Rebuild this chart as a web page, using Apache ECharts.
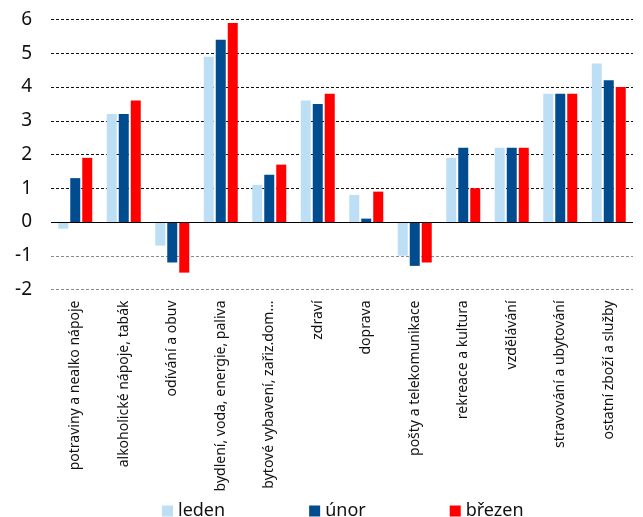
<!DOCTYPE html>
<html>
<head>
<meta charset="utf-8">
<script src="https://cdn.jsdelivr.net/npm/echarts@6/dist/echarts.min.js"></script>
<style>
  html, body { margin: 0; padding: 0; background: #fff; }
  #chart { width: 643px; height: 517px; }
</style>
</head>
<body>
<div id="chart"></div>
<script>
// Spotřebitelské ceny podle oddílů – meziroční změna (%)
const categories = [
  'potraviny a nealko nápoje',
  'alkoholické nápoje, tabák',
  'odívání a obuv',
  'bydlení, voda, energie, paliva',
  'bytové vybavení, zařiz.dom…',
  'zdraví',
  'doprava',
  'pošty a telekomunikace',
  'rekreace a kultura',
  'vzdělávání',
  'stravování a ubytování',
  'ostatní zboží a služby'
];
const seriesNames = ['leden', 'únor', 'březen'];
const leden  = [-0.2, 3.2, -0.7, 4.9, 1.1, 3.6, 0.8, -1.0, 1.9, 2.2, 3.8, 4.7];
const unor   = [ 1.3, 3.2, -1.2, 5.4, 1.4, 3.5, 0.1, -1.3, 2.2, 2.2, 3.8, 4.2];
const brezen = [ 1.9, 3.6, -1.5, 5.9, 1.7, 3.8, 0.9, -1.2, 1.0, 2.2, 3.8, 4.0];
const yMin = -2, yMax = 6, yStep = 1;

const colors = ['#BDDFF5', '#004C8F', '#FF0000'];
const font = 'Noto Sans';

const chart = echarts.init(document.getElementById('chart'), null, { renderer: 'canvas' });

function bar(name, data, color, withZeroLine) {
  const s = {
    name: name,
    type: 'bar',
    data: data,
    barWidth: 10,
    barGap: '20%',
    itemStyle: { color: color },
    emphasis: { disabled: true },
    animation: false
  };
  if (withZeroLine) {
    s.markLine = {
      silent: true,
      symbol: ['none', 'none'],
      label: { show: false },
      lineStyle: { color: '#000', width: 1, type: 'solid' },
      data: [{ yAxis: 0 }],
      animation: false
    };
  }
  return s;
}

chart.setOption({
  animation: false,
  textStyle: { fontFamily: font },
  grid: { left: 51, right: 10, top: 19.5, bottom: 227.5 },
  legend: {
    data: seriesNames,
    left: 157,
    top: 497,
    itemWidth: 11,
    itemHeight: 11,
    itemGap: 84,
    icon: 'rect',
    textStyle: { fontFamily: font, fontSize: 18, color: '#111' }
  },
  xAxis: {
    type: 'category',
    data: categories,
    axisLine: { show: false, onZero: false },
    axisTick: { show: false },
    splitLine: { show: false },
    axisLabel: {
      rotate: 90,
      interval: 0,
      margin: 11,
      fontFamily: font,
      fontSize: 14,
      color: '#111'
    }
  },
  yAxis: {
    type: 'value',
    min: yMin,
    max: yMax,
    interval: yStep,
    axisLine: { show: false },
    axisTick: { show: false },
    axisLabel: {
      margin: 19,
      fontFamily: font,
      fontSize: 19,
      color: '#111'
    },
    splitLine: {
      show: true,
      lineStyle: {
        color: ['#8a8a8a', '#8a8a8a', '#8a8a8a', '#111', '#111', '#111', '#111', '#111', '#111'],
        type: [3, 2],
        width: 1
      }
    }
  },
  series: [
    bar(seriesNames[0], leden, colors[0], false),
    bar(seriesNames[1], unor, colors[1], false),
    bar(seriesNames[2], brezen, colors[2], true)
  ]
});
</script>
</body>
</html>
